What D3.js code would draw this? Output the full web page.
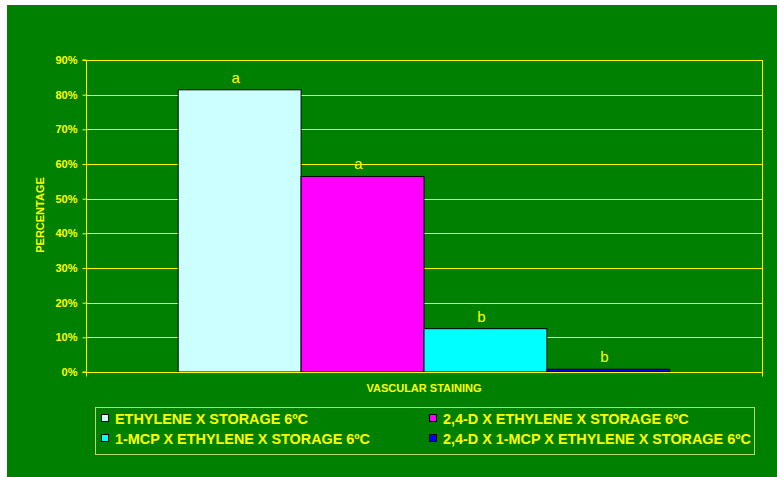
<!DOCTYPE html>
<html>
<head>
<meta charset="utf-8">
<script src="https://cdn.jsdelivr.net/npm/d3@7/dist/d3.min.js"></script>
<style>
  html, body { margin: 0; padding: 0; background: #ffffff; }
  svg { display: block; }
  text { font-family: "Liberation Sans", Arial, sans-serif; }
</style>
</head>
<body>
<svg id="chart" width="777" height="477"></svg>
<script>
// Vascular staining after storage at 6 ºC, by treatment
const categories = ["VASCULAR STAINING"];
const series = [
  "ETHYLENE X STORAGE 6ºC",
  "2,4-D X ETHYLENE X STORAGE 6ºC",
  "1-MCP X ETHYLENE X STORAGE 6ºC",
  "2,4-D X 1-MCP X ETHYLENE X STORAGE 6ºC"
];
const values = [0.814, 0.564, 0.125, 0.008];
const letters = ["a", "a", "b", "b"];
const yTicks = [0, 0.1, 0.2, 0.3, 0.4, 0.5, 0.6, 0.7, 0.8, 0.9];
const colors = ["#CCFFFF", "#FF00FF", "#00FFFF", "#0000FF"];

const YELLOW = "#FFFF00";
const svg = d3.select("#chart");

// green chart area
svg.append("rect")
  .attr("x", 7).attr("y", 5).attr("width", 770).attr("height", 472)
  .attr("fill", "#008000");

const plot = { left: 86, right: 762, top: 60, bottom: 372 };

const y = d3.scaleLinear().domain([0, 0.9]).range([plot.bottom, plot.top]);
const xCat = d3.scaleBand().domain(categories).range([plot.left, plot.right]);
const xSer = d3.scaleBand().domain(series)
  .range([xCat(categories[0]), xCat(categories[0]) + xCat.bandwidth()])
  .paddingInner(0).paddingOuter(0.75);

// horizontal gridlines
svg.append("g").selectAll("line").data(yTicks.slice(1)).join("line")
  .attr("x1", plot.left).attr("x2", plot.right)
  .attr("y1", d => Math.round(y(d)) + 0.5).attr("y2", d => Math.round(y(d)) + 0.5)
  .attr("stroke", YELLOW).attr("stroke-width", 1);

// right frame edge
svg.append("line")
  .attr("x1", plot.right + 0.5).attr("x2", plot.right + 0.5)
  .attr("y1", plot.top).attr("y2", plot.bottom)
  .attr("stroke", YELLOW);

// bars
svg.append("g").selectAll("rect").data(series).join("rect")
  .attr("x", d => xSer(d))
  .attr("y", (d, i) => y(values[i]))
  .attr("width", xSer.bandwidth())
  .attr("height", (d, i) => y(0) - y(values[i]))
  .attr("fill", (d, i) => colors[i])
  .attr("stroke", "#000000").attr("stroke-width", 1);

// significance letters
svg.append("g").selectAll("text").data(series).join("text")
  .attr("x", d => xSer(d) + xSer.bandwidth() / 2 - 4)
  .attr("y", (d, i) => y(values[i]) - 7)
  .attr("text-anchor", "middle")
  .attr("font-size", 15)
  .attr("fill", YELLOW)
  .text((d, i) => letters[i]);

// y axis
const yAxis = d3.axisLeft(y).tickValues(yTicks).tickFormat(d3.format(".0%")).tickSize(4).tickPadding(5);
const gy = svg.append("g").attr("transform", `translate(${plot.left + 0.5},0)`).call(yAxis);
gy.select(".domain").attr("stroke", YELLOW).attr("d", `M-4,${plot.top}H0V${plot.bottom}H-4`);
gy.selectAll(".tick line").attr("stroke", YELLOW);
gy.selectAll(".tick text")
  .attr("fill", YELLOW).attr("font-size", 11).attr("font-weight", "bold")
  .attr("font-family", "'Liberation Sans', Arial, sans-serif");

// x axis
const gx = svg.append("g").attr("transform", `translate(0,${plot.bottom + 0.5})`);
gx.append("line").attr("x1", plot.left).attr("x2", plot.right + 1)
  .attr("stroke", YELLOW);
gx.selectAll(".edge").data([plot.left + 0.5, plot.right + 0.5]).join("line")
  .attr("class", "edge")
  .attr("x1", d => d).attr("x2", d => d).attr("y1", 0).attr("y2", 4)
  .attr("stroke", YELLOW);
gx.selectAll(".cat").data(categories).join("text")
  .attr("class", "cat")
  .attr("x", d => xCat(d) + xCat.bandwidth() / 2)
  .attr("y", 19)
  .attr("text-anchor", "middle")
  .attr("font-size", 11).attr("font-weight", "bold")
  .attr("fill", YELLOW)
  .text(d => d);

// y axis title
svg.append("text")
  .attr("transform", `translate(44,${(plot.top + plot.bottom) / 2 - 1}) rotate(-90)`)
  .attr("text-anchor", "middle")
  .attr("font-size", 11).attr("font-weight", "bold")
  .attr("fill", YELLOW)
  .text("PERCENTAGE");

// legend
const legend = svg.append("g");
legend.append("rect")
  .attr("x", 95.5).attr("y", 407.5).attr("width", 659).attr("height", 47)
  .attr("fill", "none").attr("stroke", "#B8D870").attr("stroke-width", 1);

const legendPos = [
  { x: 101, y: 419 }, { x: 429, y: 419 },
  { x: 101, y: 439 }, { x: 429, y: 439 }
];
const items = legend.selectAll(".item").data(series).join("g")
  .attr("class", "item")
  .attr("transform", (d, i) => `translate(${legendPos[i].x},${legendPos[i].y})`);
items.append("rect")
  .attr("x", 0.5).attr("y", -4.5).attr("width", 7).attr("height", 7)
  .attr("fill", (d, i) => colors[i]).attr("stroke", "#000000");
items.append("text")
  .attr("x", 14).attr("y", 5)
  .attr("font-size", 14.4).attr("font-weight", "bold")
  .attr("fill", YELLOW)
  .text(d => d);
</script>
</body>
</html>
